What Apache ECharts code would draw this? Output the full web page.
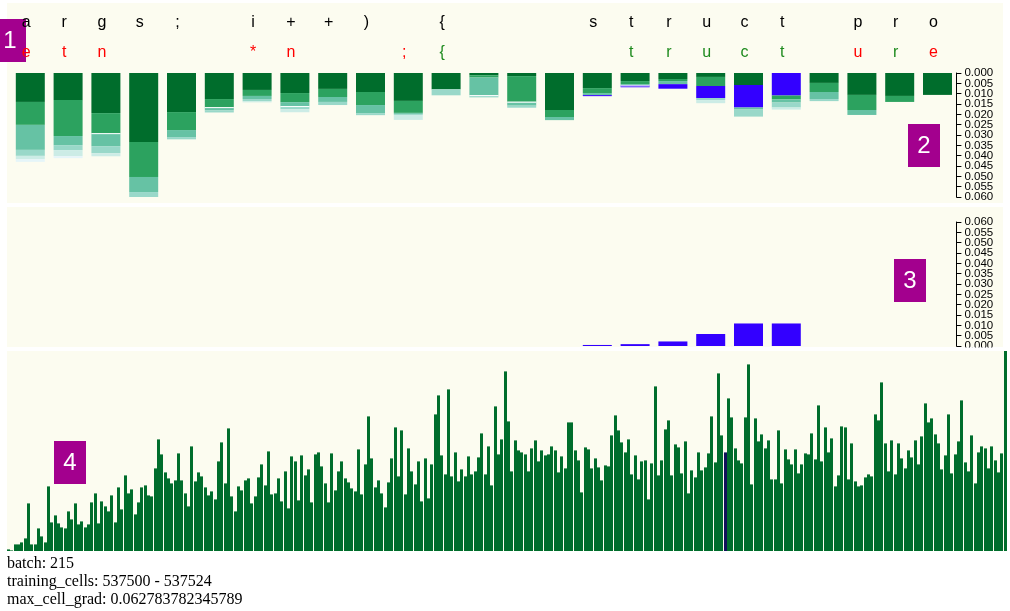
<!DOCTYPE html>
<html><head><meta charset="utf-8">
<script src="https://cdn.jsdelivr.net/npm/echarts@6/dist/echarts.min.js"></script>
<style>html,body{margin:0;padding:0;background:#fff}#c{width:1010px;height:611px}</style>
</head><body><div id="c"></div>
<script>
// ---------- data ----------
const inputChars = ['a','r','g','s',';',' ','i','+','+',')',' ','{',' ',' ',' ','s','t','r','u','c','t',' ','p','r','o'];
const predChars  = ['e','t','n',' ',' ',' ','*','n',' ',' ',';','{',' ',' ',' ',' ','t','r','u','c','t',' ','u','r','e'];
// gradient contributions per layer (stacked, top panel)
const gradL0 = [0.0140,0.0131,0.0194,0.0334,0.0189,0.0126,0.0082,0.0097,0.0077,0.0092,0.0135,0.0079,0.0011,0.0015,0.0179,0.0073,0.0039,0.0029,0.0019,0.0058,0,0.0048,0.0106,0.0111,0.0106];
const gradL1 = [0.0111,0.0174,0.0097,0.0169,0.0087,0.0039,0.0029,0.0044,0.0039,0.0063,0.0058,0,0.0011,0.0124,0.0034,0.0024,0.0015,0.0010,0.0044,0,0.0019,0.0044,0.0073,0.0029,0];
const gradL2 = [0.0121,0.0044,0.0063,0.0073,0.0034,0.0015,0.0015,0.0019,0.0024,0.0039,0.0005,0,0.0085,0.0019,0.0015,0.0010,0.0006,0.0015,0,0.0010,0.0015,0.0034,0.0024,0,0];
const gradL3 = [0.0029,0.0024,0.0034,0.0034,0.0011,0.0011,0.0010,0.0015,0.0015,0.0010,0.0005,0.0029,0.0011,0.0010,0,0,0,0,0.0010,0.0034,0.0024,0.0010,0,0,0];
const gradL4 = [0.0016,0.0029,0.0015,0.0015,0,0,0.0006,0.0015,0,0,0.0024,0,0,0,0,0,0,0,0.0015,0,0.0010,0,0,0,0];
const gradL5 = [0.0013,0.0010,0,0,0,0,0,0,0,0,0,0,0,0,0,0,0,0,0,0,0,0,0,0,0];
// selected cell: which layer it occupies in each bar (-1 none) and its gradient
const selectedLayer = [-1,-1,-1,-1,-1,-1,-1,-1,-1,-1,-1,-1,-1,-1,-1,5,4,3,2,1,0,-1,-1,-1,-1];
const selectedGrad  = [0,0,0,0,0,0,0,0,0,0,0,0,0,0,0,0.0005,0.0009,0.0022,0.0058,0.0109,0.0109,0,0,0,0];
// visible white breaks inside bars: [bar, after layer]
const layerBreaks = [[2,1],[5,1],[7,2],[12,2],[13,1],[16,3]];
// per-cell gradient, percent of max_cell_grad
const cellGradPct = [
0.8,0.3,3.3,3.3,4.3,6.3,23.8,3.3,3.3,11.3,7.3,4.3,32.3,14.3,17.8,13.8,11.8,11.3,19.8,15.8,
23.8,13.3,14.8,11.8,13.3,24.3,28.8,13.8,24.8,22.3,19.8,27.8,14.3,31.8,20.8,37.8,28.8,30.8,18.3,24.3,
31.8,32.8,27.8,27.3,41.3,55.8,48.3,39.3,36.3,33.8,35.3,48.8,35.3,28.8,22.3,52.3,34.8,39.3,37.3,31.8,
27.8,29.8,25.8,44.8,54.3,33.8,61.3,27.3,19.8,32.3,30.3,35.3,36.3,23.8,27.3,36.8,43.3,32.8,49.8,28.3,
28.8,36.3,24.8,39.8,21.3,47.3,44.8,25.3,47.8,37.8,40.8,24.3,48.3,49.3,42.3,33.8,24.3,48.8,30.3,39.8,
44.8,36.3,34.3,31.3,29.8,50.8,28.3,43.3,67.3,46.3,31.8,35.3,28.8,21.8,34.3,46.3,61.8,37.3,60.3,28.3,
51.3,39.8,33.3,44.8,24.8,46.3,26.3,43.3,68.3,77.8,47.8,38.3,80.8,37.3,49.3,34.8,40.8,37.3,47.3,38.3,
39.8,46.8,58.8,38.3,52.3,32.8,72.3,48.3,55.8,89.8,64.8,39.8,55.3,50.3,49.3,48.3,39.8,51.3,55.3,44.8,
50.3,47.8,48.3,52.3,50.3,39.3,47.3,41.3,64.3,64.3,50.3,45.3,29.3,51.8,50.8,41.3,46.3,41.8,35.3,42.8,
42.3,57.8,67.8,60.3,54.3,49.3,55.8,38.3,47.8,35.8,44.8,45.3,25.8,43.8,82.3,37.8,45.3,60.8,65.3,37.8,
53.3,51.8,38.8,54.8,28.8,40.3,36.8,49.3,40.3,41.8,48.8,67.3,44.3,88.8,57.8,49.3,76.3,66.8,51.3,45.3,
43.8,66.8,93.3,33.3,66.3,54.8,58.3,51.3,55.3,35.8,35.8,60.3,33.8,50.8,45.8,43.3,50.8,38.8,43.3,48.8,
48.3,58.8,45.8,72.8,44.8,61.8,49.3,56.3,32.3,37.8,62.3,61.8,35.8,53.8,34.8,32.3,32.8,36.8,38.3,37.3,
68.3,65.3,84.3,53.8,39.8,55.3,38.3,53.8,46.3,41.3,50.3,46.8,55.3,43.3,57.3,73.8,64.3,66.3,58.3,53.8,
40.8,47.8,68.3,38.8,48.3,54.8,75.3,44.3,39.8,57.8,33.8,49.3,52.3,51.3,41.3,52.3,45.3,39.3,48.8,100
];
const maxCellGrad = 0.062783782345789;
const selectedCell = 215;
const batch = 215;
const trainingCells = [537500, 537524];
const gradAxis = {min: 0, max: 0.06, interval: 0.005};

// ---------- styles ----------
const BG = '#fcfcf0';
const layerColors = ['#006d2c','#2ca25f','#66c2a4','#99d8c9','#ccece6','#e5f5f9'];
const SEL = '#3300ff';
const GREEN = '#006d2c';
const NAVY = '#10105a';
const BADGE = '#a3008e';
const SANS = '"Liberation Sans", Arial, Helvetica, sans-serif';
const SERIF = '"Liberation Serif", "Times New Roman", serif';

const idx25 = inputChars.map((_, i) => String(i));
const idxCells = cellGradPct.map((_, i) => String(i));
const layers = [gradL0, gradL1, gradL2, gradL3, gradL4, gradL5];
const layerVal = (i, k) => selectedLayer[i] === k ? selectedGrad[i] : layers[k][i];
const cumTo = (i, k) => { let s = 0; for (let j = 0; j <= k; j++) s += layerVal(i, j); return s; };

const chart = echarts.init(document.getElementById('c'), null, {renderer: 'canvas'});

// panel geometry
const G = {x: 11.4, w: 945, top0: 73, top1: 222, h: 124, barW: 29};
const step = G.h * gradAxis.interval / (gradAxis.max - gradAxis.min);

const gradLineAxis = (gi, inverse) => ({
  gridIndex: gi, type: 'value', inverse, position: 'right',
  min: gradAxis.min, max: gradAxis.max, interval: gradAxis.interval,
  axisLine: {show: true, lineStyle: {color: '#000', width: 1}},
  axisTick: {show: true, length: 5, lineStyle: {color: '#000'}},
  splitLine: {show: false}, axisLabel: {show: false}
});
const gradLabelAxis = (gi, inverse) => ({
  gridIndex: gi, type: 'value', inverse, position: 'right',
  min: gradAxis.min - gradAxis.interval, max: gradAxis.max + gradAxis.interval, interval: gradAxis.interval,
  axisLine: {show: false}, axisTick: {show: false}, splitLine: {show: false},
  axisLabel: {fontSize: 11.5, color: '#000', margin: 8, fontFamily: SANS,
    formatter: v => (v < gradAxis.min - 1e-9 || v > gradAxis.max + 1e-9) ? '' : Math.abs(v).toFixed(3)}
});

const series = layers.map((arr, k) => ({
  type: 'bar', xAxisIndex: 0, yAxisIndex: 0, stack: 'grad', barWidth: G.barW,
  itemStyle: {color: layerColors[k]}, silent: true,
  data: arr.map((v, i) => selectedLayer[i] === k ? {value: selectedGrad[i], itemStyle: {color: SEL}} : v)
}));
series.push({
  type: 'custom', xAxisIndex: 0, yAxisIndex: 0, silent: true, z: 5,
  data: layerBreaks.map(([i, k]) => [i, cumTo(i, k)]),
  renderItem: (params, api) => {
    const c = api.coord([api.value(0), api.value(1)]);
    return {type: 'rect', shape: {x: c[0] - G.barW / 2, y: c[1], width: G.barW, height: 1}, style: {fill: '#fff'}};
  }
});
series.push({
  type: 'bar', xAxisIndex: 2, yAxisIndex: 1, barWidth: G.barW, silent: true,
  itemStyle: {color: SEL}, data: selectedGrad
});
series.push({
  type: 'custom', xAxisIndex: 3, yAxisIndex: 2, silent: true,
  data: cellGradPct.map((p, i) => [i, p * maxCellGrad / 100]),
  renderItem: (params, api) => {
    const i = api.value(0), v = api.value(1);
    const top = api.coord([i, v]), base = api.coord([i, 0]);
    const w = api.size([1, 0])[0];
    const x = Math.round(top[0] - w / 2);
    return {type: 'rect', shape: {x: x, y: top[1], width: 3, height: base[1] - top[1]},
            style: {fill: i === selectedCell ? NAVY : GREEN}};
  }
});

const badge = (x, y, t) => ({type: 'group', z: 100, children: [
  {type: 'rect', shape: {x: x, y: y, width: 32, height: 43}, style: {fill: BADGE}},
  {type: 'text', x: x + 16, y: y + 22, style: {text: t, fill: '#fff', font: '24px ' + SANS, align: 'center', verticalAlign: 'middle'}}
]});

chart.setOption({
  animation: false,
  backgroundColor: '#fff',
  grid: [
    {left: G.x, width: G.w, top: G.top0, height: G.h},
    {left: G.x, width: G.w, top: G.top1, height: G.h},
    {left: 7, width: 1000, top: 351, height: 200},
    {left: G.x, width: G.w, top: G.top0 - step, height: G.h + 2 * step},
    {left: G.x, width: G.w, top: G.top1 - step, height: G.h + 2 * step}
  ],
  xAxis: [
    {gridIndex: 0, type: 'category', data: idx25, position: 'top',
     axisLine: {show: false}, axisTick: {show: false},
     axisLabel: {interval: 0, margin: 12, fontSize: 16, fontFamily: SANS, padding: [0, 8, 0, 0],
       formatter: (v, i) => predChars[i],
       color: (v, i) => predChars[i] === inputChars[i] ? '#1d8a1d' : '#ff0000'}},
    {gridIndex: 0, type: 'category', data: idx25, position: 'top', offset: 30,
     axisLine: {show: false}, axisTick: {show: false},
     axisLabel: {interval: 0, margin: 12, fontSize: 16, fontFamily: SANS, padding: [0, 8, 0, 0],
       formatter: (v, i) => inputChars[i], color: '#000'}},
    {gridIndex: 1, type: 'category', data: idx25, show: false},
    {gridIndex: 2, type: 'category', data: idxCells, show: false},
    {gridIndex: 3, type: 'category', data: idx25, show: false},
    {gridIndex: 4, type: 'category', data: idx25, show: false}
  ],
  yAxis: [
    gradLineAxis(0, true),
    gradLineAxis(1, false),
    {gridIndex: 2, type: 'value', min: 0, max: maxCellGrad, show: false},
    gradLabelAxis(3, true),
    gradLabelAxis(4, false)
  ],
  series: series,
  graphic: {elements: [
    {type: 'rect', z: -1, shape: {x: 7, y: 3, width: 996, height: 200}, style: {fill: BG}},
    {type: 'rect', z: -1, shape: {x: 7, y: 207, width: 996, height: 140}, style: {fill: BG}},
    {type: 'rect', z: -1, shape: {x: 7, y: 351, width: 1000, height: 200}, style: {fill: BG}},
    {type: 'rect', z: 90, shape: {x: 900, y: 347.5, width: 110, height: 3.5}, style: {fill: '#fff'}},
    badge(-6, 19, '1'),
    badge(908, 124, '2'),
    badge(894, 259, '3'),
    badge(54, 441, '4'),
    {type: 'text', z: 100, x: 7, y: 564, style: {text: 'batch: ' + batch, fill: '#000', font: '16px ' + SERIF, verticalAlign: 'middle'}},
    {type: 'text', z: 100, x: 7, y: 582, style: {text: 'training_cells: ' + trainingCells[0] + ' - ' + trainingCells[1], fill: '#000', font: '16px ' + SERIF, verticalAlign: 'middle'}},
    {type: 'text', z: 100, x: 7, y: 600, style: {text: 'max_cell_grad: ' + maxCellGrad, fill: '#000', font: '16px ' + SERIF, verticalAlign: 'middle'}}
  ]}
});
</script></body></html>
